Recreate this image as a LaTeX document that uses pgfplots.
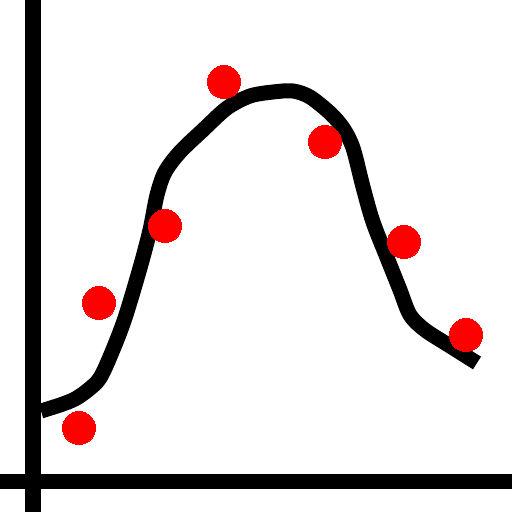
\documentclass[border=0pt]{standalone}
\usepackage{pgfplots}
\pgfplotsset{compat=1.18}
\begin{document}
\begin{tikzpicture}
\begin{axis}[
  scale only axis,
  width=512pt, height=512pt,
  xmin=0, xmax=512, ymin=0, ymax=512,
  hide axis,
]
% axes
\addplot[black, line width=16pt] coordinates {(33,0) (33,512)};
\addplot[black, line width=15pt] coordinates {(0,30.5) (512,30.5)};
% fitted curve
\addplot[black, line width=15pt, smooth, tension=0.5, line join=round] coordinates {
  (41,101) (60,107) (75,113) (88,122) (100,134) (112,160) (125,194)
  (140,244) (150,282) (157,317) (165,340) (180,360) (203,382) (227,404)
  (250,416) (273,420) (293,421) (310,415) (330,399) (343,384) (353,364)
  (363,325) (373,290) (388,252) (400,222) (410,197) (425,182) (450,166)
  (477,149)
};
% data points
\addplot[red, only marks, mark=*, mark size=16.5pt, mark options={draw=red, fill=red, line width=0pt}] coordinates {
  (79,84) (99,209) (165,286) (224,430) (325,370) (404,270) (466,177)
};
\end{axis}
\pgfresetboundingbox
\useasboundingbox (current axis.south west) rectangle (current axis.north east);
\end{tikzpicture}
\end{document}
